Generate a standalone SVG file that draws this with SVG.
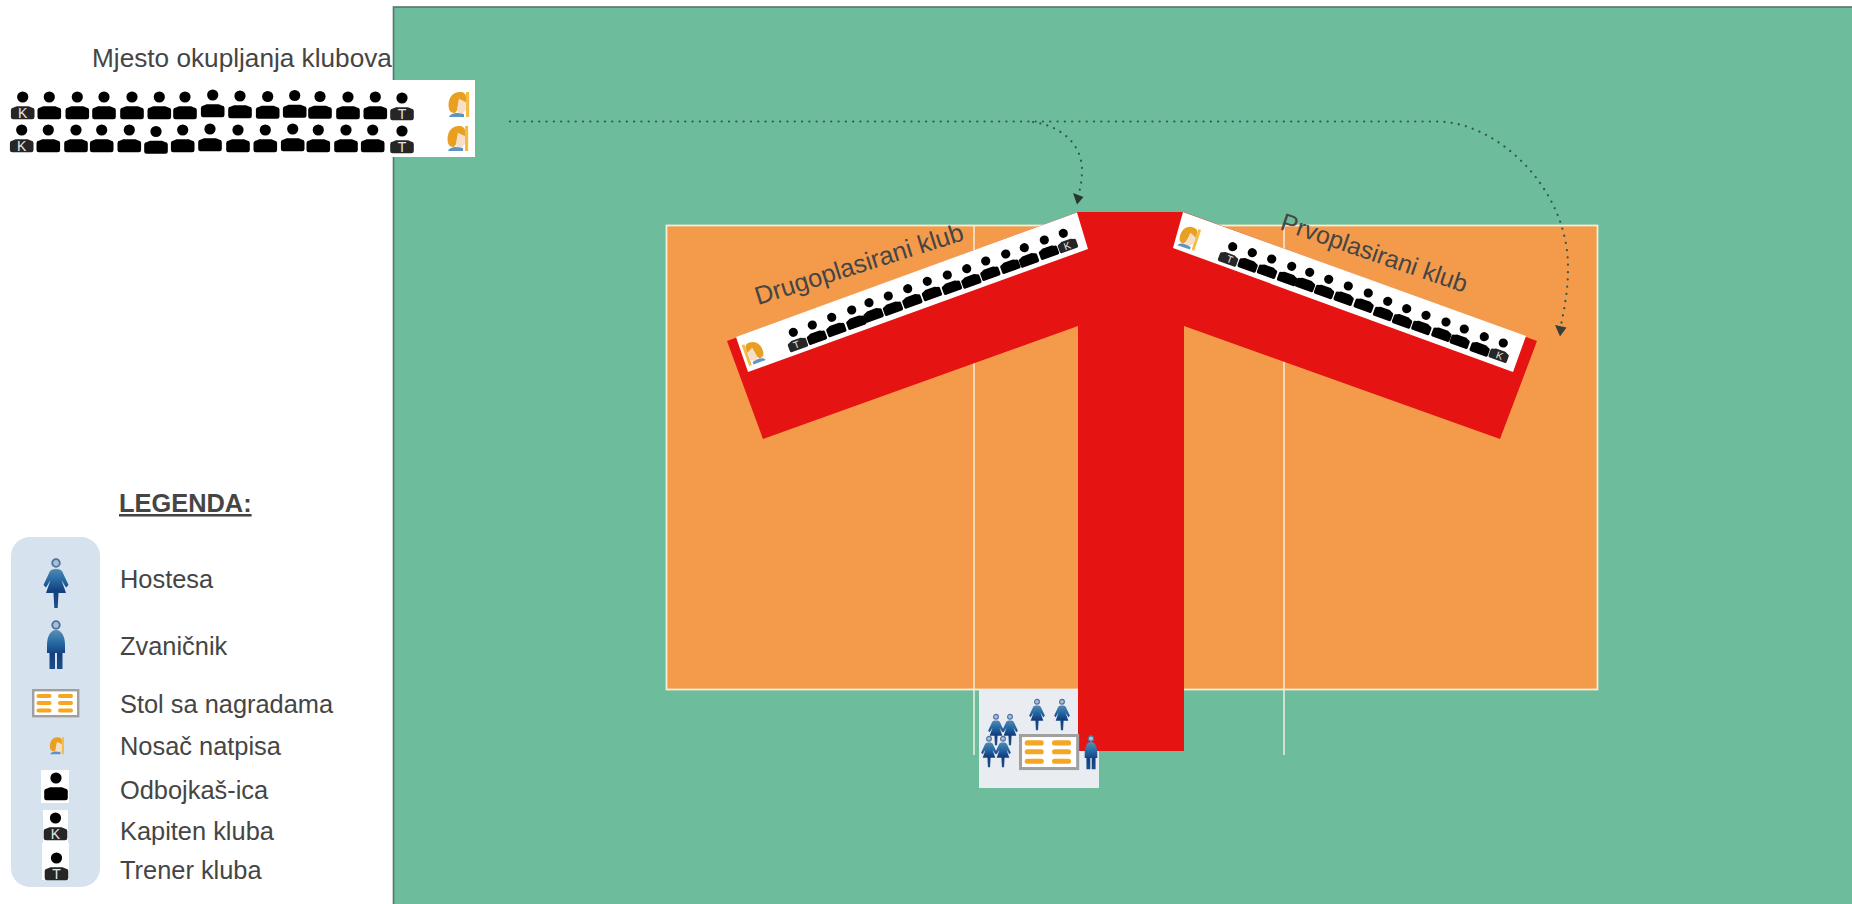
<svg xmlns="http://www.w3.org/2000/svg" width="1852" height="904" viewBox="0 0 1852 904">
<style>
text{font-family:"Liberation Sans",Arial,sans-serif;fill:#454545;font-size:25.4px}
.b{font-weight:bold;text-decoration:underline}
.l{font-size:12px;fill:#e6e6e6;text-anchor:middle}
.dot{fill:none;stroke:#2e5a50;stroke-width:2.2;stroke-linecap:round;stroke-dasharray:.1 7.2}
</style>
<defs>
<linearGradient id="bl" gradientUnits="userSpaceOnUse" x1="0" y1="10" x2="0" y2="50"><stop offset="0" stop-color="#5f8db4"/><stop offset=".28" stop-color="#2a6fa8"/><stop offset=".6" stop-color="#123f80"/><stop offset="1" stop-color="#1a4f8c"/></linearGradient>
<g id="p"><circle cx="0" cy="0" r="5.6" fill="#000"/><path d="M-11.8 20Q-11.8 22.2 -9.5 22.2L9.5 22.2Q11.8 22.2 11.8 20L11.8 13Q11.8 11 9 10.6L6 9.2L-6 9.2L-9 10.6Q-11.8 11 -11.8 13Z" fill="#000"/></g>
<g id="pd"><circle cx="0" cy="0" r="5.6" fill="#000"/><path d="M-11.8 20Q-11.8 22.2 -9.5 22.2L9.5 22.2Q11.8 22.2 11.8 20L11.8 13Q11.8 11 9 10.6L6 9.2L-6 9.2L-9 10.6Q-11.8 11 -11.8 13Z" fill="#262626"/></g>
<g id="h"><circle cx="0" cy="6" r="3.8" fill="#a9bfd4" stroke="#4f72a0" stroke-width="1.8"/><path d="M0 12C4 12 5.5 13 6.5 15L12.5 28L10 30.5L5.5 23L10 36L2.5 36L1.7 51L-1.7 51L-2.5 36L-10 36L-5.5 23L-10 30.5L-12.5 28L-6.5 15C-5.5 13 -4 12 0 12Z" fill="url(#bl)"/></g>
<g id="o"><circle cx="0" cy="5" r="3.8" fill="#a9bfd4" stroke="#4f72a0" stroke-width="1.8"/><path d="M0 10C6 10 9 17 9 25L9 33L6.5 33L6.5 49L1 49L1 33L-1 33L-1 49L-6.5 49L-6.5 33L-9 33L-9 25C-9 17 -6 10 0 10Z" fill="url(#bl)"/></g>
<g id="t"><rect x="1.2" y="1.2" width="45" height="26" fill="#fff" stroke="#a0a0a0" stroke-width="2.4"/><g fill="#f5a623"><rect x="4.5" y="5" width="15" height="4" rx="2"/><rect x="26" y="5" width="15" height="4" rx="2"/><rect x="4.5" y="12" width="15" height="4" rx="2"/><rect x="26" y="12" width="15" height="4" rx="2"/><rect x="4.5" y="19.5" width="15" height="4" rx="2"/><rect x="26" y="19.5" width="15" height="4" rx="2"/></g></g>
<g id="s"><rect x="7" y="-13" width="3.2" height="25" fill="#f3bd45"/><path d="M-10 4C-12 -6 -7 -13 1 -13C5 -13 7 -11 7 -8L7 -2L0 -6L-1 4L-4 8C-7 8 -9 7 -10 4Z" fill="#e89f22"/><path d="M0 -6L6.8 -3L6.8 5L3 9L-1 9L-2 4Z" fill="#f6dfc6"/><path d="M-10 12C-9 9 -5 8 -2 8L5 9L5 12Z" fill="#5f93c6"/></g>
</defs>

<rect id="background" width="1852" height="904" fill="#fff"/>
<rect id="field" x="393.5" y="7" width="1460" height="899" fill="#6dbd9d" stroke="#56756b" stroke-width="1.6"/>
<rect id="gather-panel" x="0" y="80" width="475" height="77" fill="#fff"/>
<rect id="court" x="666.5" y="225.5" width="931" height="464" fill="#f49a4b" stroke="#f6edd8" stroke-width="1.8"/>
<path id="court-lines" d="M974 226V755M1284 226V755" stroke="#f8f2e2" stroke-width="1.4" fill="none"/>

<rect id="podium-panel" x="979" y="690" width="120" height="98" fill="#e9ecf1"/>
<path id="carpet" d="M727 341L1078 212L1184 212L1537 341L1500 439L1184 326L1184 751L1078 751L1078 326L763 439Z" fill="#e61313"/>

<g id="podium">
<use href="#h" transform="translate(1037 698) scale(.63)"/>
<use href="#h" transform="translate(1062 698) scale(.63)"/>
<use href="#h" transform="translate(996 713) scale(.63)"/>
<use href="#h" transform="translate(1010 713) scale(.63)"/>
<use href="#h" transform="translate(989 735) scale(.63)"/>
<use href="#h" transform="translate(1003 735) scale(.63)"/>
<use href="#t" transform="translate(1019 734) scale(1.27)"/>
<use href="#o" transform="translate(1091 735) scale(.7)"/>
</g>

<g id="club-second">
<path d="M736 337L1077 212.5L1088 249L748 372Z" fill="#fff"/>
<use href="#s" transform="translate(754 353) rotate(-20) scale(-.88 .88)"/>
<use href="#pd" transform="translate(793.3 332.3) rotate(-20) scale(.82)"/>
<text class="l" transform="translate(797.5 348) rotate(-20)" style="font-size:10px">T</text>
<use href="#p" transform="translate(812.3 325) rotate(-20) scale(.82)"/>
<use href="#p" transform="translate(831.7 317.3) rotate(-20) scale(.82)"/>
<use href="#p" transform="translate(851.7 310) rotate(-20) scale(.82)"/>
<use href="#p" transform="translate(869 302.7) rotate(-20) scale(.82)"/>
<use href="#p" transform="translate(888.3 296) rotate(-20) scale(.82)"/>
<use href="#p" transform="translate(907.7 288.7) rotate(-20) scale(.82)"/>
<use href="#p" transform="translate(927.3 281.3) rotate(-20) scale(.82)"/>
<use href="#p" transform="translate(947.3 275) rotate(-20) scale(.82)"/>
<use href="#p" transform="translate(966.7 268.7) rotate(-20) scale(.82)"/>
<use href="#p" transform="translate(985.7 261) rotate(-20) scale(.82)"/>
<use href="#p" transform="translate(1005.7 254) rotate(-20) scale(.82)"/>
<use href="#p" transform="translate(1024.3 247.7) rotate(-20) scale(.82)"/>
<use href="#p" transform="translate(1044.3 240) rotate(-20) scale(.82)"/>
<use href="#pd" transform="translate(1063.3 233.3) rotate(-20) scale(.82)"/>
<text class="l" transform="translate(1068.5 249) rotate(-20)" style="font-size:10px">K</text>
<text transform="translate(758 305) rotate(-17.5)">Drugoplasirani klub</text>
</g>

<g id="club-first">
<path d="M1183 212L1526 336L1513 372L1173 248Z" fill="#fff"/>
<use href="#s" transform="translate(1189 238) rotate(18) scale(.88)"/>
<use href="#pd" transform="translate(1232.7 246.7) rotate(20) scale(.82)"/>
<text class="l" transform="translate(1228.5 262.5) rotate(20)" style="font-size:10px">T</text>
<use href="#p" transform="translate(1252.3 252.7) rotate(20) scale(.82)"/>
<use href="#p" transform="translate(1271.7 259) rotate(20) scale(.82)"/>
<use href="#p" transform="translate(1291.7 266.3) rotate(20) scale(.82)"/>
<use href="#p" transform="translate(1309.7 272.3) rotate(20) scale(.82)"/>
<use href="#p" transform="translate(1328.7 279.3) rotate(20) scale(.82)"/>
<use href="#p" transform="translate(1348.3 286) rotate(20) scale(.82)"/>
<use href="#p" transform="translate(1368.3 293) rotate(20) scale(.82)"/>
<use href="#p" transform="translate(1387.7 301.3) rotate(20) scale(.82)"/>
<use href="#p" transform="translate(1406.7 308.7) rotate(20) scale(.82)"/>
<use href="#p" transform="translate(1426 315.3) rotate(20) scale(.82)"/>
<use href="#p" transform="translate(1446 322) rotate(20) scale(.82)"/>
<use href="#p" transform="translate(1464.3 329) rotate(20) scale(.82)"/>
<use href="#p" transform="translate(1484.3 336.7) rotate(20) scale(.82)"/>
<use href="#pd" transform="translate(1503.3 343) rotate(20) scale(.82)"/>
<text class="l" transform="translate(1498.5 359) rotate(20)" style="font-size:10px">K</text>
<text transform="translate(1279 229) rotate(19)" style="font-size:24.8px">Prvoplasirani klub</text>
</g>

<g id="gathering">
<text x="92" y="67" style="font-size:26.2px">Mjesto okupljanja klubova</text>
<g id="row-1">
<use href="#pd" x="22.7" y="97"/><text class="l" x="22.7" y="118" style="font-size:14px">K</text>
<use href="#p" x="49.3" y="97"/><use href="#p" x="77.3" y="97"/><use href="#p" x="104" y="97"/><use href="#p" x="132" y="97"/><use href="#p" x="159.3" y="97"/><use href="#p" x="185" y="97"/><use href="#p" x="212.7" y="95"/><use href="#p" x="240" y="96"/><use href="#p" x="267.7" y="96.5"/><use href="#p" x="294.7" y="95.5"/><use href="#p" x="320" y="96.5"/><use href="#p" x="348" y="97"/><use href="#p" x="375.3" y="97"/>
<use href="#pd" x="402" y="98"/><text class="l" x="402" y="119" style="font-size:14px">T</text>
<use href="#s" transform="translate(459 105)"/>
</g>
<g id="row-2">
<use href="#pd" x="21.7" y="130"/><text class="l" x="21.7" y="151" style="font-size:14px">K</text>
<use href="#p" x="48.3" y="130"/><use href="#p" x="76" y="130"/><use href="#p" x="101.7" y="130"/><use href="#p" x="129.3" y="130"/><use href="#p" x="156" y="131.5"/><use href="#p" x="182.7" y="130"/><use href="#p" x="210" y="129"/><use href="#p" x="238" y="130"/><use href="#p" x="265.3" y="130"/><use href="#p" x="292.7" y="129"/><use href="#p" x="318.3" y="130"/><use href="#p" x="346" y="130"/><use href="#p" x="372.7" y="130"/>
<use href="#pd" x="402" y="131"/><text class="l" x="402" y="152" style="font-size:14px">T</text>
<use href="#s" transform="translate(458 139)"/>
</g>
</g>

<g id="legend">
<text class="b" x="119" y="512">LEGENDA:</text>
<rect x="11" y="537" width="89" height="350" rx="19" fill="#d6e2ee"/>
<g id="lg-hostess"><use href="#h" x="56" y="557"/><text x="120" y="588">Hostesa</text></g>
<g id="lg-official"><use href="#o" x="56" y="620"/><text x="120" y="655">Zvaničnik</text></g>
<g id="lg-table"><use href="#t" x="32" y="689"/><text x="120" y="713">Stol sa nagradama</text></g>
<g id="lg-sign"><use href="#s" transform="translate(57 746) scale(.68)"/><text x="120" y="755">Nosač natpisa</text></g>
<g id="lg-player"><rect x="41" y="770" width="28" height="33" fill="#fff"/><use href="#p" x="56" y="778"/><text x="120" y="799">Odbojkaš-ica</text></g>
<g id="lg-captain"><rect x="43" y="810" width="25" height="33" fill="#fff"/><use href="#pd" x="55.5" y="818"/><text class="l" x="55.5" y="839" style="font-size:14px">K</text><text x="120" y="840">Kapiten kluba</text></g>
<g id="lg-coach"><rect x="42" y="843" width="27" height="37" fill="#fff"/><use href="#pd" x="56.5" y="858"/><text class="l" x="56.5" y="879" style="font-size:14px">T</text><text x="120" y="879">Trener kluba</text></g>
</g>

<g id="connectors">
<path class="dot" d="M510 121.5L1440 121.5C1500 124 1568 190 1568 267C1568 290 1565 305 1561 325"/>
<path class="dot" d="M1033 122C1062 126 1082 145 1082 170C1082 178 1081 185 1079 193"/>
<path d="M1073 193L1083.5 197L1077 204.5Z" fill="#2b3533"/>
<path d="M1555 325L1566.5 327.5L1560 336.5Z" fill="#35403e"/>
</g>
</svg>
